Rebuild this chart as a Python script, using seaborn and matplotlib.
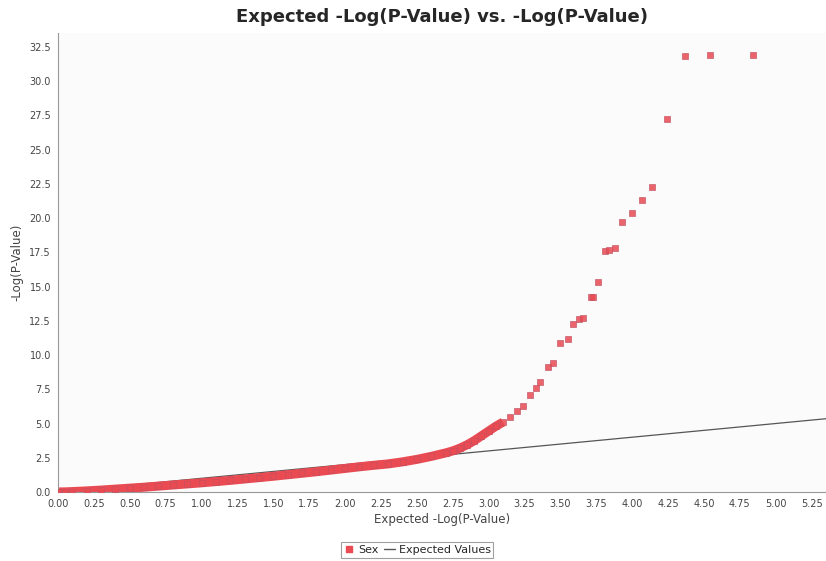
import matplotlib
matplotlib.use("Agg")
import matplotlib.pyplot as plt
import seaborn as sns
import pandas as pd
from matplotlib.lines import Line2D

sns.set_theme(style="white")
plt.rcParams['font.family'] = ['DejaVu Sans']

# Observed vs expected -log10(p) values
expected = [0.00, 0.05, 0.10, 0.20, 0.30, 0.40, 0.50, 0.60, 0.70, 0.80, 0.90, 1.00,
            1.10, 1.20, 1.30, 1.40, 1.50, 1.60, 1.70, 1.80, 1.90, 2.00, 2.10, 2.20,
            2.30, 2.40, 2.50, 2.60, 2.70, 2.75, 2.80, 2.85, 2.90, 2.95, 3.00, 3.05,
            3.10, 3.15, 3.20, 3.24, 3.29, 3.33, 3.36, 3.41, 3.45, 3.50, 3.55, 3.59,
            3.63, 3.66, 3.71, 3.73, 3.76, 3.81, 3.84, 3.88, 3.93, 4.00, 4.07, 4.14,
            4.24, 4.37, 4.54, 4.84]
observed = [0.00, 0.01, 0.03, 0.08, 0.14, 0.21, 0.28, 0.35, 0.43, 0.51, 0.59, 0.67,
            0.76, 0.85, 0.95, 1.05, 1.15, 1.26, 1.37, 1.48, 1.60, 1.72, 1.84, 1.95,
            2.05, 2.20, 2.38, 2.60, 2.85, 3.00, 3.20, 3.45, 3.75, 4.10, 4.45, 4.80,
            5.10, 5.50, 5.90, 6.30, 7.10, 7.60, 8.00, 9.10, 9.40, 10.9, 11.2, 12.3,
            12.6, 12.7, 14.2, 14.2, 15.3, 17.6, 17.7, 17.8, 19.7, 20.4, 21.3, 22.3,
            27.2, 31.8, 31.9, 31.9]
expected_line_x = [0.0, 5.35]
expected_line_y = [0.0, 5.35]

x_ticks = [0.00, 0.25, 0.50, 0.75, 1.00, 1.25, 1.50, 1.75, 2.00, 2.25, 2.50, 2.75,
           3.00, 3.25, 3.50, 3.75, 4.00, 4.25, 4.50, 4.75, 5.00, 5.25]
y_ticks = [0.0, 2.5, 5.0, 7.5, 10.0, 12.5, 15.0, 17.5, 20.0, 22.5, 25.0, 27.5, 30.0, 32.5]

df = pd.DataFrame({"expected": expected, "observed": observed})
dense = df[df["expected"] <= 3.1]

red = "#ea4a52"

fig = plt.figure(figsize=(8.26, 5.61), dpi=100)
ax = fig.add_axes([0.0702, 0.123, 0.9298, 0.818])
ax.set_facecolor("#fbfbfb")

sns.lineplot(x=expected_line_x, y=expected_line_y, ax=ax, color="#555555",
             linewidth=0.9, zorder=1)
# dense band of points
sns.lineplot(data=dense, x="expected", y="observed", ax=ax, color=red,
             linewidth=6.5, sort=True, estimator=None, zorder=2,
             solid_capstyle="butt")
sns.scatterplot(data=df, x="expected", y="observed", ax=ax, marker="s", s=20,
                color=red, edgecolor="#c05060", linewidth=0.5, alpha=0.85, zorder=3)

ax.set_xlim(0, 5.35)
ax.set_ylim(0, 33.5)
ax.set_xticks(x_ticks)
ax.set_xticklabels([f"{v:.2f}" for v in x_ticks], fontsize=7, color="#444444")
ax.set_yticks(y_ticks)
ax.set_yticklabels([f"{v:.1f}" for v in y_ticks], fontsize=7, color="#444444")
ax.tick_params(axis="both", direction="out", length=3, width=0.6, colors="#888888",
               labelcolor="#444444", pad=2)
for s in ["top", "right"]:
    ax.spines[s].set_visible(False)
for s in ["left", "bottom"]:
    ax.spines[s].set_color("#999999")
    ax.spines[s].set_linewidth(0.8)

ax.set_xlabel("Expected -Log(P-Value)", fontsize=8.5, color="#444444", labelpad=3)
ax.set_ylabel("-Log(P-Value)", fontsize=8.5, color="#444444", labelpad=4)
fig.suptitle("Expected -Log(P-Value) vs. -Log(P-Value)", fontsize=13, fontweight="bold",
             x=0.535, y=0.985, va="top")

handles = [Line2D([], [], marker="s", linestyle="none", color=red, markersize=5),
           Line2D([], [], color="#555555", linewidth=1)]
leg = fig.legend(handles, ["Sex", "Expected Values"], loc="center",
                 bbox_to_anchor=(0.505, 0.0195), ncol=2, fontsize=8, frameon=True,
                 fancybox=False, handlelength=1.0, handletextpad=0.3, columnspacing=0.5,
                 borderpad=0.25)
leg.get_frame().set_edgecolor("#888888")
leg.get_frame().set_linewidth(0.8)

fig.savefig("out.png", dpi=100)
